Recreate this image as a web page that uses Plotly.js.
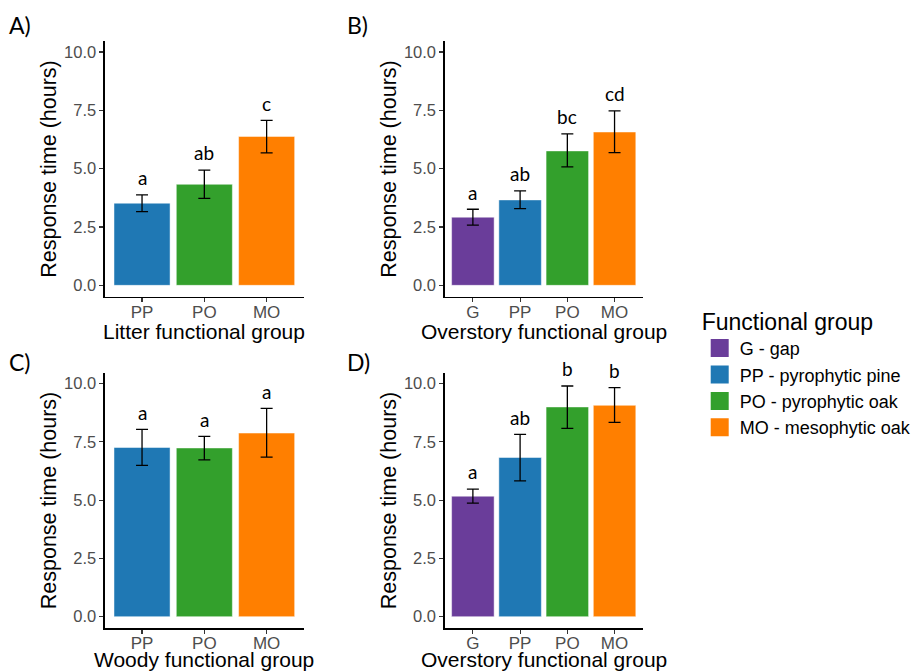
<!DOCTYPE html>
<html>
<head>
<meta charset="utf-8">
<script src="https://cdn.plot.ly/plotly-3.0.1.min.js"></script>
<style>html,body{margin:0;padding:0;background:#fff;}#chart{width:917px;height:672px;}</style>
</head>
<body>
<div id="chart"></div>
<script>
// ---- Data ----
const groupCodes = ['G', 'PP', 'PO', 'MO'];
const groupLegendLabels = ['G - gap', 'PP - pyrophytic pine', 'PO - pyrophytic oak', 'MO - mesophytic oak'];
const groupColors = ['#6A3D9A', '#1F78B4', '#33A02C', '#FF7F00'];

// Panel A: Litter functional group
const litterGroups = ['PP', 'PO', 'MO'];
const litterMean = [3.52, 4.33, 6.38];
const litterLower = [3.16, 3.73, 5.68];
const litterUpper = [3.88, 4.94, 7.07];
const litterLetters = ['a', 'ab', 'c'];

// Panel B: Overstory functional group
const overB_Groups = ['G', 'PP', 'PO', 'MO'];
const overB_Mean = [2.92, 3.66, 5.76, 6.57];
const overB_Lower = [2.58, 3.29, 5.08, 5.69];
const overB_Upper = [3.26, 4.05, 6.49, 7.48];
const overB_Letters = ['a', 'ab', 'bc', 'cd'];

// Panel C: Woody functional group
const woodyGroups = ['PP', 'PO', 'MO'];
const woodyMean = [7.26, 7.24, 7.88];
const woodyLower = [6.49, 6.73, 6.85];
const woodyUpper = [8.04, 7.74, 8.94];
const woodyLetters = ['a', 'a', 'a'];

// Panel D: Overstory functional group
const overD_Groups = ['G', 'PP', 'PO', 'MO'];
const overD_Mean = [5.17, 6.83, 9.00, 9.07];
const overD_Lower = [4.87, 5.83, 8.08, 8.34];
const overD_Upper = [5.47, 7.82, 9.90, 9.83];
const overD_Letters = ['a', 'ab', 'b', 'b'];

const yTickVals = [0, 2.5, 5, 7.5, 10];
const yTickText = ['0.0', '2.5', '5.0', '7.5', '10.0'];
const yTitle = 'Response time (hours)';
const panelTags = ['A)', 'B)', 'C)', 'D)'];
const xTitles = ['Litter functional group', 'Overstory functional group', 'Woody functional group', 'Overstory functional group'];

// ---- Build ----
const sansFont = 'Liberation Sans, Arial, sans-serif';
const letterFont = 'Lato, Noto Sans, sans-serif';
const colorOf = g => groupColors[groupCodes.indexOf(g)];

const panels = [
  {groups: litterGroups, mean: litterMean, lo: litterLower, hi: litterUpper, letters: litterLetters, xa: 'x', ya: 'y', tshift: -34},
  {groups: overB_Groups, mean: overB_Mean, lo: overB_Lower, hi: overB_Upper, letters: overB_Letters, xa: 'x2', ya: 'y2', tshift: -34},
  {groups: woodyGroups, mean: woodyMean, lo: woodyLower, hi: woodyUpper, letters: woodyLetters, xa: 'x3', ya: 'y3', tshift: -31},
  {groups: overD_Groups, mean: overD_Mean, lo: overD_Lower, hi: overD_Upper, letters: overD_Letters, xa: 'x4', ya: 'y4', tshift: -31}
];

const traces = [];
const annotations = [];
panels.forEach((p, i) => {
  traces.push({
    type: 'bar',
    x: p.groups,
    y: p.mean,
    width: 0.9,
    xaxis: p.xa, yaxis: p.ya,
    marker: {color: p.groups.map(colorOf), line: {color: 'rgba(255,255,255,0.6)', width: 0.8}},
    error_y: {
      type: 'data', symmetric: false,
      array: p.hi.map((v, k) => v - p.mean[k]),
      arrayminus: p.mean.map((v, k) => v - p.lo[k]),
      color: '#000', thickness: 1.3, width: 6
    },
    showlegend: false,
    hoverinfo: 'x+y'
  });
  p.letters.forEach((L, k) => {
    annotations.push({
      xref: p.xa, yref: p.ya, x: p.groups[k], y: p.hi[k] + 0.16,
      text: L, showarrow: false, yanchor: 'bottom', xanchor: 'center',
      font: {family: letterFont, size: 19, color: '#000'}
    });
  });
  // x-axis title
  annotations.push({
    xref: p.xa + ' domain', yref: p.ya + ' domain', x: 0.5, y: 0, yshift: p.tshift,
    xanchor: 'center', yanchor: 'middle', showarrow: false, borderpad: 0,
    text: xTitles[i], font: {family: sansFont, size: 21, color: '#000'}
  });
});

// legend entries
groupCodes.forEach((g, i) => {
  traces.push({
    type: 'scatter', mode: 'markers', x: [null], y: [null], xaxis: 'x', yaxis: 'y',
    name: groupLegendLabels[i],
    marker: {symbol: 'square', size: 16, color: groupColors[i], line: {color: groupColors[i], width: 2}},
    showlegend: true, hoverinfo: 'skip'
  });
});

// panel tags
const tagPos = [[0.008, 0.963], [0.378, 0.963], [0.008, 0.461], [0.378, 0.461]];
panelTags.forEach((t, i) => {
  annotations.push({
    xref: 'paper', yref: 'paper', x: tagPos[i][0], y: tagPos[i][1], xanchor: 'left', yanchor: 'middle',
    text: t, showarrow: false, font: {family: letterFont, size: 23, color: '#000'}
  });
});

function xAxis(domain, anchor, cats) {
  return {
    domain: domain, anchor: anchor, type: 'category',
    categoryorder: 'array', categoryarray: cats,
    range: [-0.6, cats.length - 0.4],
    showline: true, linecolor: '#000', linewidth: 1.2,
    ticks: 'outside', ticklen: 4, tickcolor: '#333', tickwidth: 1.1,
    ticklabelstandoff: -5,
    showgrid: false, zeroline: false,
    tickfont: {family: sansFont, size: 17, color: '#4D4D4D'},
    fixedrange: true
  };
}
function yAxis(domain, anchor) {
  return {
    domain: domain, anchor: anchor,
    range: [-0.5, 10.47],
    tickvals: yTickVals, ticktext: yTickText,
    showline: true, linecolor: '#000', linewidth: 1.2,
    ticks: 'outside', ticklen: 4, tickcolor: '#333', tickwidth: 1.1,
    showgrid: false, zeroline: false,
    tickfont: {family: sansFont, size: 16.5, color: '#4D4D4D'},
    title: {text: yTitle, font: {family: sansFont, size: 21.5, color: '#000'}, standoff: 1},
    fixedrange: true
  };
}

const W = 917, H = 672;
const xdA = [105 / W, 305 / W], xdB = [446 / W, 645 / W];
const ydTop = [1 - 297 / H, 1 - 41 / H], ydBot = [1 - 628.3 / H, 1 - 372.7 / H];

const layout = {
  width: W, height: H,
  margin: {l: 0, r: 0, t: 0, b: 0},
  paper_bgcolor: '#fff', plot_bgcolor: '#fff',
  barmode: 'overlay',
  xaxis: xAxis(xdA, 'y', litterGroups),
  yaxis: yAxis(ydTop, 'x'),
  xaxis2: xAxis(xdB, 'y2', overB_Groups),
  yaxis2: yAxis(ydTop, 'x2'),
  xaxis3: xAxis(xdA, 'y3', woodyGroups),
  yaxis3: yAxis(ydBot, 'x3'),
  xaxis4: xAxis(xdB, 'y4', overD_Groups),
  yaxis4: yAxis(ydBot, 'x4'),
  annotations: annotations,
  showlegend: true,
  legend: {
    x: 702 / W, y: 1 - 300 / H, xanchor: 'left', yanchor: 'top',
    title: {text: 'Functional group', font: {family: sansFont, size: 23, color: '#000'}},
    font: {family: sansFont, size: 18, color: '#000'},
    bgcolor: 'rgba(0,0,0,0)', borderwidth: 0, tracegroupgap: 0,
    itemsizing: 'trace', itemwidth: 30
  }
};

Plotly.newPlot('chart', traces, layout, {displayModeBar: false, staticPlot: true});
</script>
</body>
</html>
